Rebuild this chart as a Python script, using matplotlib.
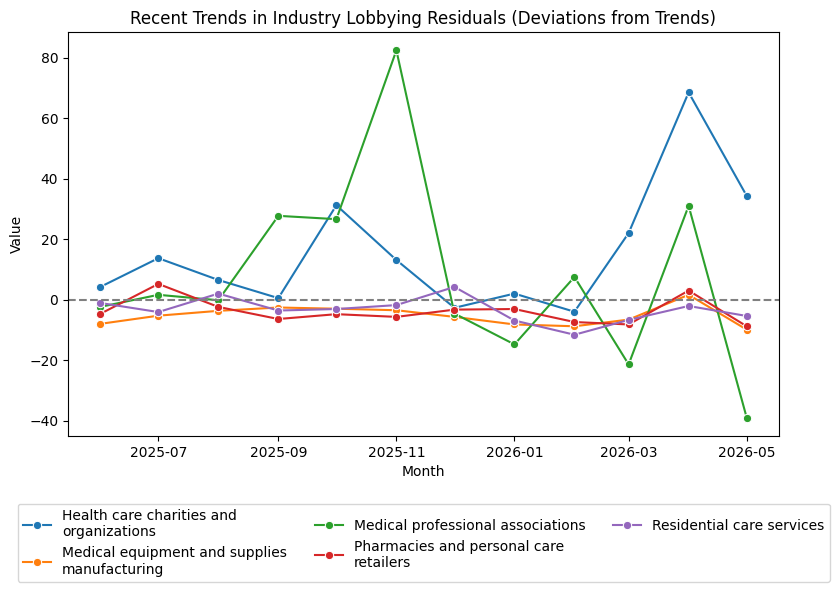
import matplotlib
matplotlib.use("Agg")
import matplotlib.pyplot as plt
import numpy as np
import pandas as pd

months = pd.date_range("2025-06-01", "2026-05-01", freq="MS")

health_charities = [4.2, 13.7, 6.5, 0.5, 31.2, 13.1, -2.7, 2.0, -4.0, 22.0, 68.5, 34.3]
med_equipment = [-8.0, -5.3, -3.7, -2.6, -3.0, -3.5, -5.7, -8.2, -8.8, -6.6, 1.6, -9.9]
med_professional = [-2.4, 1.6, -0.2, 27.7, 26.6, 82.4, -4.6, -14.8, 7.5, -21.4, 31.0, -39.0]
pharmacies = [-4.7, 5.2, -2.4, -6.4, -4.8, -5.7, -3.3, -3.1, -7.4, -8.2, 3.0, -8.8]
residential = [-1.1, -4.1, 2.0, -3.6, -3.1, -1.8, 4.2, -6.9, -11.6, -6.7, -2.1, -5.4]

series = [
    ("Health care charities and\norganizations", health_charities, "#1f77b4"),
    ("Medical equipment and supplies\nmanufacturing", med_equipment, "#ff7f0e"),
    ("Medical professional associations", med_professional, "#2ca02c"),
    ("Pharmacies and personal care\nretailers", pharmacies, "#d62728"),
    ("Residential care services", residential, "#9467bd"),
]

fig = plt.figure(figsize=(8.39, 5.92), dpi=100)
ax = fig.add_axes([0.081, 0.2635, 0.8475, 0.6825])

for label, vals, color in series:
    ax.plot(months, vals, marker="o", color=color, label=label, linewidth=1.5,
            markersize=6, markeredgecolor="white", markeredgewidth=0.75)

ax.axhline(0, color="gray", linestyle="--", linewidth=1.5)
ax.set_title("Recent Trends in Industry Lobbying Residuals (Deviations from Trends)")
ax.set_xlabel("Month")
ax.set_ylabel("Value")

fig.legend(loc="upper center", bbox_to_anchor=(0.505, 0.161), ncol=3, frameon=True)

fig.savefig("out.png", dpi=100)
